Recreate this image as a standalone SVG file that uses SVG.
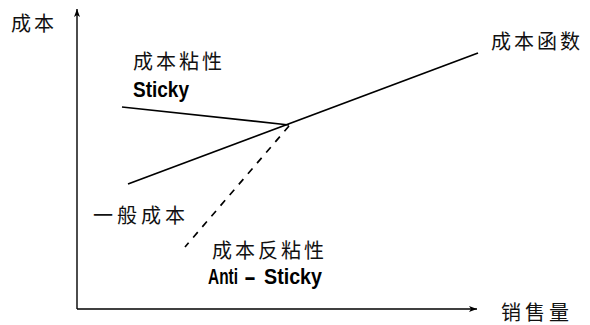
<svg xmlns="http://www.w3.org/2000/svg" width="590" height="325" viewBox="0 0 590 325">
  <defs>
    <marker id="arr" markerUnits="userSpaceOnUse" markerWidth="9" markerHeight="7" refX="8" refY="3.5" orient="auto">
      <path d="M0,0.5 L8,3.5 L0,6.5 L2,3.5 z" fill="#000"/>
    </marker>
    <style>
      .cjk { font-family: "Noto Sans CJK SC", sans-serif; font-size: 20px; fill: #111; letter-spacing: 3px; }
      .lat { font-family: "Liberation Sans", Arial, sans-serif; font-size: 22px; font-weight: bold; fill: #000; }
      .ax { stroke: #000; stroke-width: 1.4; fill: none; }
      .ln { stroke: #000; stroke-width: 1.7; fill: none; }
      .dash { stroke: #000; stroke-width: 1.7; fill: none; stroke-dasharray: 7 7; }
    </style>
  </defs>
  <rect width="590" height="325" fill="#fff"/>
  <g id="connectors">
    <path class="ax" d="M77,309 L77,9" marker-end="url(#arr)"/>
    <path class="ax" d="M77,309 L477,309" marker-end="url(#arr)"/>
    <path class="ln" d="M122,107 L289,125"/>
    <path class="ln" d="M128,184 L478,53"/>
    <path class="dash" d="M289,126 L185,247"/>
  </g>
  <g id="y-label"><text class="cjk" x="11" y="31">成本</text></g>
  <g id="x-label"><text class="cjk" x="501" y="320" style="letter-spacing:4px">销售量</text></g>
  <g id="cost-function"><text class="cjk" x="491" y="49">成本函数</text></g>
  <g id="sticky">
    <text class="cjk" x="133" y="69">成本粘性</text>
    <text class="lat" x="133" y="97" textLength="56" lengthAdjust="spacingAndGlyphs">Sticky</text>
  </g>
  <g id="general-cost"><text class="cjk" x="93" y="223" style="letter-spacing:4px">一般成本</text></g>
  <g id="anti-sticky">
    <text class="cjk" x="212" y="258">成本反粘性</text>
    <text class="lat" y="284"><tspan x="208" textLength="30" lengthAdjust="spacingAndGlyphs">Anti</tspan><tspan x="244" textLength="12" lengthAdjust="spacingAndGlyphs">-</tspan><tspan x="264" textLength="58" lengthAdjust="spacingAndGlyphs">Sticky</tspan></text>
  </g>
</svg>
